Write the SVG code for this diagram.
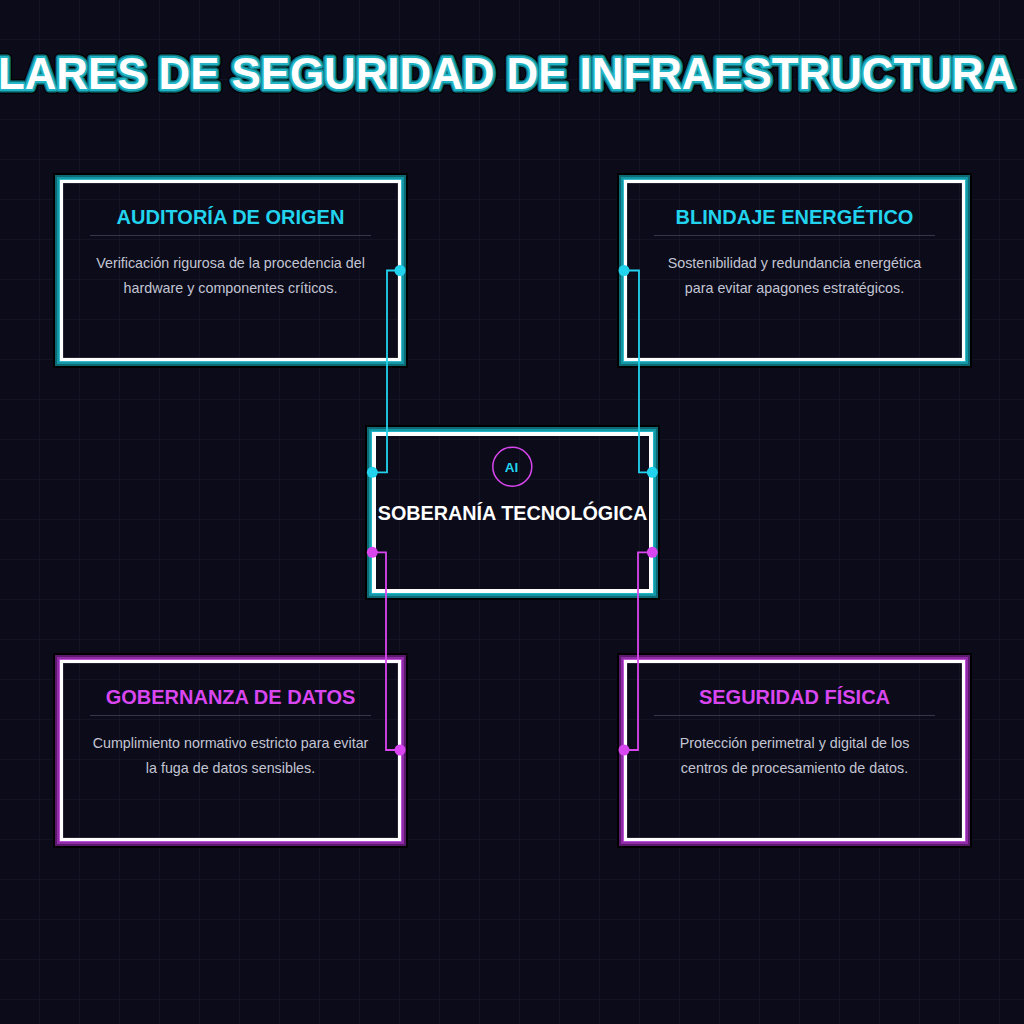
<svg xmlns="http://www.w3.org/2000/svg" width="1024" height="1024" viewBox="0 0 1024 1024">
<defs>
<pattern id="grid" width="40" height="40" patternUnits="userSpaceOnUse">
<path d="M40 0V40M0 40H40" fill="none" stroke="#1a1a2c" stroke-width="1"/>
</pattern>
<style>
rect.f{fill:none}
.k{stroke:#000;stroke-width:2}
.c1{stroke:#0d6a74;stroke-width:2}
.c2{stroke:#1397a5;stroke-width:2}
.c3{stroke:#20b6c6;stroke-width:1}
.m1{stroke:#5c1a6e;stroke-width:2}
.m2{stroke:#8f2ba6;stroke-width:2}
.m3{stroke:#b640d0;stroke-width:1}
.w{stroke:#fff;stroke-width:3.2}
.h{font-family:"Liberation Sans",Arial,sans-serif;font-weight:bold;font-size:20px;text-anchor:middle}
.hc{fill:#22d3ee}
.hm{fill:#d946ef}
.d{font-family:"Liberation Sans",Arial,sans-serif;font-size:14.3px;fill:#c3c5d3;text-anchor:middle}
.dv{stroke:#36364a;stroke-width:1}
.cn{fill:none;stroke-width:1.8}
.cc{stroke:#22d3ee}
.cm{stroke:#d946ef}
.dc{fill:#22d3ee}
.dm{fill:#d946ef}
.t{font-family:"Liberation Sans",Arial,sans-serif;font-weight:bold;font-size:43.8px}
</style>
<g id="frameC">
<rect class="f k" x="-6" y="-6" width="353" height="193"/>
<rect class="f c1" x="-4" y="-4" width="349" height="189"/>
<rect class="f c2" x="-2" y="-2" width="345" height="185"/>
<rect class="f c3" x="-0.5" y="-0.5" width="342" height="182"/>
<rect class="f w" x="1.5" y="1.5" width="338" height="178"/>
</g>
<g id="frameM">
<rect class="f k" x="-6" y="-6" width="353" height="193"/>
<rect class="f m1" x="-4" y="-4" width="349" height="189"/>
<rect class="f m2" x="-2" y="-2" width="345" height="185"/>
<rect class="f m3" x="-0.5" y="-0.5" width="342" height="182"/>
<rect class="f w" x="1.5" y="1.5" width="338" height="178"/>
</g>
</defs>
<rect width="1024" height="1024" fill="#0b0b1a"/>
<rect width="1024" height="1024" fill="url(#grid)"/>
<g id="title">
<text class="t" x="-43.4" y="89" fill="none" stroke="#000" stroke-width="9.5" stroke-linejoin="round">PILARES DE SEGURIDAD DE INFRAESTRUCTURA</text>
<text class="t" x="-43.4" y="89" fill="none" stroke="#0f7782" stroke-width="7" stroke-linejoin="round">PILARES DE SEGURIDAD DE INFRAESTRUCTURA</text>
<text class="t" x="-43.4" y="89" fill="none" stroke="#22b4c4" stroke-width="4" stroke-linejoin="round">PILARES DE SEGURIDAD DE INFRAESTRUCTURA</text>
<text class="t" x="-43.4" y="89" fill="#ffffff">PILARES DE SEGURIDAD DE INFRAESTRUCTURA</text>
</g>
<g id="node-auditoria">
<use href="#frameC" x="60" y="180"/>
<text class="h hc" x="230.5" y="224">AUDITORÍA DE ORIGEN</text>
<line class="dv" x1="90" y1="235.5" x2="371" y2="235.5"/>
<text class="d" x="230.5" y="268">Verificación rigurosa de la procedencia del</text>
<text class="d" x="230.5" y="293">hardware y componentes críticos.</text>
</g>
<g id="node-blindaje">
<use href="#frameC" x="624" y="180"/>
<text class="h hc" x="794.5" y="224">BLINDAJE ENERGÉTICO</text>
<line class="dv" x1="654" y1="235.5" x2="935" y2="235.5"/>
<text class="d" x="794.5" y="268">Sostenibilidad y redundancia energética</text>
<text class="d" x="794.5" y="293">para evitar apagones estratégicos.</text>
</g>
<g id="node-gobernanza">
<use href="#frameM" x="60" y="660"/>
<text class="h hm" x="230.5" y="704">GOBERNANZA DE DATOS</text>
<line class="dv" x1="90" y1="715.5" x2="371" y2="715.5"/>
<text class="d" x="230.5" y="748">Cumplimiento normativo estricto para evitar</text>
<text class="d" x="230.5" y="773">la fuga de datos sensibles.</text>
</g>
<g id="node-seguridad">
<use href="#frameM" x="624" y="660"/>
<text class="h hm" x="794.5" y="704">SEGURIDAD FÍSICA</text>
<line class="dv" x1="654" y1="715.5" x2="935" y2="715.5"/>
<text class="d" x="794.5" y="748">Protección perimetral y digital de los</text>
<text class="d" x="794.5" y="773">centros de procesamiento de datos.</text>
</g>
<g id="node-center">
<rect class="f k" x="366" y="426" width="293" height="173"/>
<rect class="f c1" x="368" y="428" width="289" height="169"/>
<rect class="f c2" x="370" y="430" width="285" height="165"/>
<rect class="f c3" x="371.5" y="431.5" width="282" height="162"/>
<rect class="f w" x="374" y="434" width="277" height="157" style="stroke-width:4"/>
<circle cx="512.3" cy="466.7" r="19.5" fill="none" stroke="#d946ef" stroke-width="1.5"/>
<text x="511.5" y="471.5" font-family="Liberation Sans, Arial, sans-serif" font-weight="bold" font-size="13.5" fill="#22d3ee" text-anchor="middle">AI</text>
<text class="h" x="512.5" y="520" fill="#ffffff" style="font-size:19.8px">SOBERANÍA TECNOLÓGICA</text>
</g>
<g id="connectors">
<path class="cn cc" d="M400 270.5H387V472.3H372.3"/>
<path class="cn cc" d="M624 270.5H639V472.3H652.3"/>
<path class="cn cm" d="M372.3 552.3H386V750H400"/>
<path class="cn cm" d="M652.3 552.3H638V750H624"/>
<circle class="dc" cx="400" cy="270.5" r="5.5"/>
<circle class="dc" cx="372.3" cy="472.3" r="5.5"/>
<circle class="dc" cx="624" cy="270.5" r="5.5"/>
<circle class="dc" cx="652.3" cy="472.3" r="5.5"/>
<circle class="dm" cx="372.3" cy="552.3" r="5.5"/>
<circle class="dm" cx="400" cy="750" r="5.5"/>
<circle class="dm" cx="652.3" cy="552.3" r="5.5"/>
<circle class="dm" cx="624" cy="750" r="5.5"/>
</g>
</svg>
